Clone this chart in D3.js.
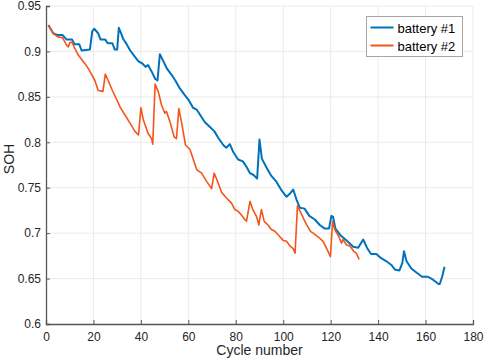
<!DOCTYPE html>
<html>
<head>
<meta charset="utf-8">
<script src="https://cdn.jsdelivr.net/npm/d3@7"></script>
<style>
  html, body { margin: 0; padding: 0; background: #fff; overflow: hidden; }
  svg { display: block; font-family: "Liberation Sans", Arial, sans-serif; }
</style>
</head>
<body>
<div id="chart"></div>
<script>
// battery #1 (blue)
const cycles1 = [1, 3, 5, 7, 8.7, 11, 12, 14, 15, 18.5, 19.5, 20.3, 22, 23, 25, 26, 28, 29, 30, 30.7, 31.5, 32.5, 34, 35.5, 37.5, 39, 40.5, 42, 43, 44.5, 46, 47, 48, 49.5, 51, 53, 54.5, 56.5, 58.5, 60, 62, 63.5, 65, 67, 69, 71, 72.6, 74.7, 76, 77.5, 79, 81, 83, 84.5, 86, 87.5, 89, 90, 91, 93, 95, 97, 99.3, 101.4, 103, 104.2, 105.6, 107, 109, 111, 113.3, 115.4, 117.5, 119.3, 120.3, 121, 122, 124, 126.7, 129.5, 131.6, 133.7, 135.3, 137, 139.3, 141, 143.5, 145.6, 147, 149, 150.2, 150.9, 152, 154, 156, 158.5, 161, 163, 165.5, 166, 167, 168];
const soh1 = [0.929, 0.920, 0.918, 0.918, 0.913, 0.913, 0.908, 0.908, 0.901, 0.902, 0.922, 0.925, 0.920, 0.913, 0.913, 0.909, 0.909, 0.902, 0.902, 0.926, 0.921, 0.914, 0.908, 0.901, 0.894, 0.889, 0.887, 0.883, 0.885, 0.878, 0.870, 0.868, 0.897, 0.889, 0.881, 0.874, 0.868, 0.859, 0.852, 0.847, 0.838, 0.836, 0.830, 0.822, 0.817, 0.812, 0.805, 0.797, 0.794, 0.798, 0.789, 0.781, 0.779, 0.773, 0.766, 0.764, 0.760, 0.803, 0.782, 0.772, 0.763, 0.757, 0.747, 0.740, 0.744, 0.748, 0.737, 0.728, 0.727, 0.719, 0.715, 0.709, 0.705, 0.705, 0.719, 0.718, 0.705, 0.698, 0.692, 0.685, 0.684, 0.693, 0.684, 0.677, 0.677, 0.673, 0.669, 0.665, 0.660, 0.659, 0.667, 0.680, 0.669, 0.661, 0.657, 0.652, 0.652, 0.649, 0.644, 0.644, 0.652, 0.663];

// battery #2 (orange)
const cycles2 = [1, 3, 5, 7, 8.7, 9.4, 10.1, 11, 12.2, 13.6, 15.7, 17.4, 18.5, 20.6, 22, 24, 25, 26.2, 28, 30, 31.2, 33.3, 35.4, 37.5, 39, 40, 41, 43, 44.5, 45, 46, 47.3, 48.7, 50.1, 50.8, 52.2, 54, 55, 56, 57.2, 58.8, 60.7, 62, 63.5, 65.6, 67.7, 69.8, 70.9, 72, 72.6, 74, 76, 78.2, 79.6, 81, 82.4, 83.8, 84.5, 86, 87, 88.8, 89.7, 90.8, 92, 93.6, 95, 96.5, 98.6, 100, 101.4, 102.8, 104.2, 105, 106, 107.5, 109.5, 111.5, 112.6, 114.7, 116.8, 118.9, 119.9, 120.8, 121.7, 123.1, 124.6, 125.2, 126.7, 128.1, 129.7, 130.8, 132];
const soh2 = [0.929, 0.920, 0.916, 0.915, 0.907, 0.905, 0.910, 0.910, 0.903, 0.896, 0.889, 0.883, 0.878, 0.868, 0.857, 0.856, 0.875, 0.868, 0.857, 0.846, 0.839, 0.830, 0.821, 0.812, 0.808, 0.838, 0.825, 0.810, 0.804, 0.798, 0.864, 0.856, 0.841, 0.832, 0.834, 0.823, 0.806, 0.804, 0.837, 0.821, 0.797, 0.792, 0.782, 0.770, 0.766, 0.757, 0.749, 0.766, 0.759, 0.755, 0.745, 0.739, 0.733, 0.726, 0.724, 0.720, 0.715, 0.713, 0.735, 0.727, 0.718, 0.709, 0.726, 0.713, 0.709, 0.704, 0.702, 0.696, 0.692, 0.691, 0.686, 0.683, 0.678, 0.730, 0.722, 0.711, 0.702, 0.700, 0.696, 0.691, 0.680, 0.674, 0.713, 0.704, 0.698, 0.689, 0.693, 0.687, 0.686, 0.680, 0.678, 0.671];

const xTicks = [0, 20, 40, 60, 80, 100, 120, 140, 160, 180];
const yTicks = [0.6, 0.65, 0.7, 0.75, 0.8, 0.85, 0.9, 0.95];
const seriesNames = ['battery #1', 'battery #2'];
const seriesColors = ['#0072BD', '#F5541B'];

const width = 484, height = 363;
const margin = { top: 6, right: 11, bottom: 39, left: 46 };
const innerWidth = width - margin.left - margin.right;
const innerHeight = height - margin.top - margin.bottom;

const svg = d3.select('#chart').append('svg').attr('width', width).attr('height', height);
const g = svg.append('g').attr('transform', `translate(${margin.left},${margin.top})`);

const x = d3.scaleLinear().domain([0, 180]).range([0, innerWidth]);
const y = d3.scaleLinear().domain([0.6, 0.95]).range([innerHeight, 0]);

// grid
g.append('g').selectAll('line').data(xTicks.slice(1)).join('line')
  .attr('x1', (d) => x(d)).attr('x2', (d) => x(d)).attr('y1', 0).attr('y2', innerHeight)
  .attr('stroke', '#ebebeb').attr('stroke-width', 1);
g.append('g').selectAll('line').data(yTicks.slice(1)).join('line')
  .attr('x1', 0).attr('x2', innerWidth).attr('y1', (d) => y(d)).attr('y2', (d) => y(d))
  .attr('stroke', '#ebebeb').attr('stroke-width', 1);

// axes, MATLAB style inward ticks
const xAxis = g.append('g').attr('transform', `translate(0,${innerHeight})`)
  .call(d3.axisBottom(x).tickValues(xTicks).tickSize(-4).tickPadding(8).tickFormat(d3.format('d')));
const yAxis = g.append('g')
  .call(d3.axisLeft(y).tickValues(yTicks).tickSize(-4).tickPadding(5).tickFormat((d) => String(+d.toFixed(2))));
[xAxis, yAxis].forEach((ax) => {
  ax.select('.domain').attr('stroke', '#555').attr('stroke-width', 1.3);
  ax.selectAll('.tick line').attr('stroke', '#555');
  ax.selectAll('.tick text').attr('fill', '#262626').attr('font-size', 12)
    .style('font-family', '"Liberation Sans", Arial, sans-serif');
});

// axis labels
g.append('text')
  .attr('x', innerWidth / 2).attr('y', innerHeight + 31)
  .attr('text-anchor', 'middle').attr('fill', '#262626').attr('font-size', 14)
  .text('Cycle number');
g.append('text')
  .attr('transform', 'rotate(-90)').attr('x', -innerHeight / 2 + 6).attr('y', -32)
  .attr('text-anchor', 'middle').attr('fill', '#262626').attr('font-size', 14)
  .text('SOH');

// lines
const line = d3.line().x((d) => x(d[0])).y((d) => y(d[1]));
const data1 = cycles1.map((c, i) => [c, soh1[i]]);
const data2 = cycles2.map((c, i) => [c, soh2[i]]);
g.append('path').datum(data1).attr('d', line)
  .attr('fill', 'none').attr('stroke', seriesColors[0]).attr('stroke-width', 2).attr('stroke-linejoin', 'round');
g.append('path').datum(data2).attr('d', line)
  .attr('fill', 'none').attr('stroke', seriesColors[1]).attr('stroke-width', 1.6).attr('stroke-linejoin', 'round');

// legend
const legend = svg.append('g').attr('transform', 'translate(366.5,16.5)');
legend.append('rect').attr('width', 96).attr('height', 40)
  .attr('fill', '#fff').attr('stroke', '#a6a6a6').attr('stroke-width', 1);
seriesNames.forEach((name, i) => {
  const ly = 11 + i * 18;
  legend.append('line').attr('x1', 4).attr('x2', 27).attr('y1', ly).attr('y2', ly)
    .attr('stroke', seriesColors[i]).attr('stroke-width', 2);
  legend.append('text').attr('x', 31).attr('y', ly + 5)
    .attr('fill', '#000').attr('font-size', 13).text(name);
});
</script>
</body>
</html>
